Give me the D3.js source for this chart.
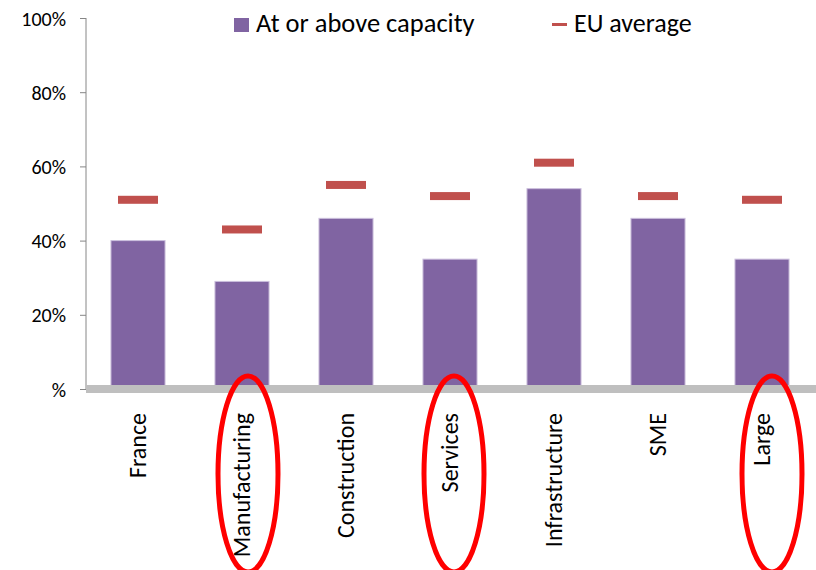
<!DOCTYPE html>
<html>
<head>
<meta charset="utf-8">
<script src="https://cdn.jsdelivr.net/npm/d3@7/dist/d3.min.js"></script>
<style>
  body { margin: 0; background: #fff; }
  svg text { font-family: Carlito, Calibri, Lato, sans-serif; fill: #000; }
</style>
</head>
<body>
<script>
// chart values
var categories = ["France", "Manufacturing", "Construction", "Services", "Infrastructure", "SME", "Large"];
var capacity = [0.40, 0.29, 0.46, 0.35, 0.54, 0.46, 0.35];
var euAverage = [0.51, 0.43, 0.55, 0.52, 0.61, 0.52, 0.51];
var yTicks = [0, 0.2, 0.4, 0.6, 0.8, 1.0];
var yTickLabels = ["%", "20%", "40%", "60%", "80%", "100%"];
var seriesNames = ["At or above capacity", "EU average"];
// red rings drawn over some labels
var circled = ["Manufacturing", "Services", "Large"];
var circledShift = [6, 4, 10];

var width = 816, height = 570;
var purple = "#8064A2", red = "#C0504D";

var svg = d3.select("body").append("svg")
    .attr("width", width)
    .attr("height", height);

var x = d3.scaleBand()
    .domain(categories)
    .range([86, 814])
    .paddingInner(0.48)
    .paddingOuter(0.24);

var y = d3.scaleLinear()
    .domain([0, 1])
    .range([389, 18]);

// y axis
var yAxis = d3.axisLeft(y)
    .tickValues(yTicks)
    .tickSize(6)
    .tickFormat(function(d, i) { return yTickLabels[i]; });

var gy = svg.append("g")
    .attr("transform", "translate(86,0)")
    .call(yAxis);
gy.select(".domain").attr("stroke", "#868686").attr("d", "M0,18V389");
gy.selectAll(".tick line").attr("stroke", "#868686");
gy.selectAll(".tick text")
    .attr("x", -20)
    .attr("dy", "0.35em")
    .style("font-size", "20px")
    .style("font-family", "Carlito, Calibri, Lato, sans-serif")
    .attr("fill", "#000");

// bars
svg.selectAll("rect.bar")
    .data(capacity)
    .enter().append("rect")
    .attr("class", "bar")
    .attr("x", function(d, i) { return x(categories[i]); })
    .attr("width", x.bandwidth())
    .attr("y", function(d) { return y(d); })
    .attr("height", function(d) { return y(0) - y(d); })
    .attr("fill", purple)
    .attr("stroke", "#cbbfdd")
    .attr("stroke-width", 1);

// category axis (thick grey line)
svg.append("line")
    .attr("x1", 86).attr("x2", width)
    .attr("y1", y(0)).attr("y2", y(0))
    .attr("stroke", "#BFBFBF")
    .attr("stroke-width", 8);

// EU average dashes
var dashW = 40, dashH = 8;
svg.selectAll("rect.eu")
    .data(euAverage)
    .enter().append("rect")
    .attr("class", "eu")
    .attr("x", function(d, i) { return x(categories[i]) + x.bandwidth() / 2 - dashW / 2; })
    .attr("y", function(d) { return y(d) - dashH / 2; })
    .attr("width", dashW)
    .attr("height", dashH)
    .attr("fill", red);

// category labels, rotated
svg.selectAll("text.cat")
    .data(categories)
    .enter().append("text")
    .attr("class", "cat")
    .attr("transform", function(d) {
        return "translate(" + (x(d) + x.bandwidth() / 2) + ",413) rotate(-90)";
    })
    .attr("dy", "0.35em")
    .attr("text-anchor", "end")
    .style("font-size", "24px")
    .text(function(d) { return d; });

// legend
var legend = svg.append("g");
legend.append("rect")
    .attr("x", 234).attr("y", 18)
    .attr("width", 15).attr("height", 14)
    .attr("fill", purple);
legend.append("text")
    .attr("x", 256).attr("y", 32)
    .style("font-size", "26.5px")
    .text(seriesNames[0]);
legend.append("rect")
    .attr("x", 552).attr("y", 23)
    .attr("width", 15).attr("height", 3)
    .attr("fill", red);
legend.append("text")
    .attr("x", 574).attr("y", 32)
    .style("font-size", "26px")
    .text(seriesNames[1]);

// red ellipses
svg.selectAll("ellipse.mark")
    .data(circled)
    .enter().append("ellipse")
    .attr("class", "mark")
    .attr("cx", function(d, i) { return x(d) + x.bandwidth() / 2 + circledShift[i]; })
    .attr("cy", 474)
    .attr("rx", 30)
    .attr("ry", 98)
    .attr("fill", "none")
    .attr("stroke", "#FF0000")
    .attr("stroke-width", 5);
</script>
</body>
</html>
